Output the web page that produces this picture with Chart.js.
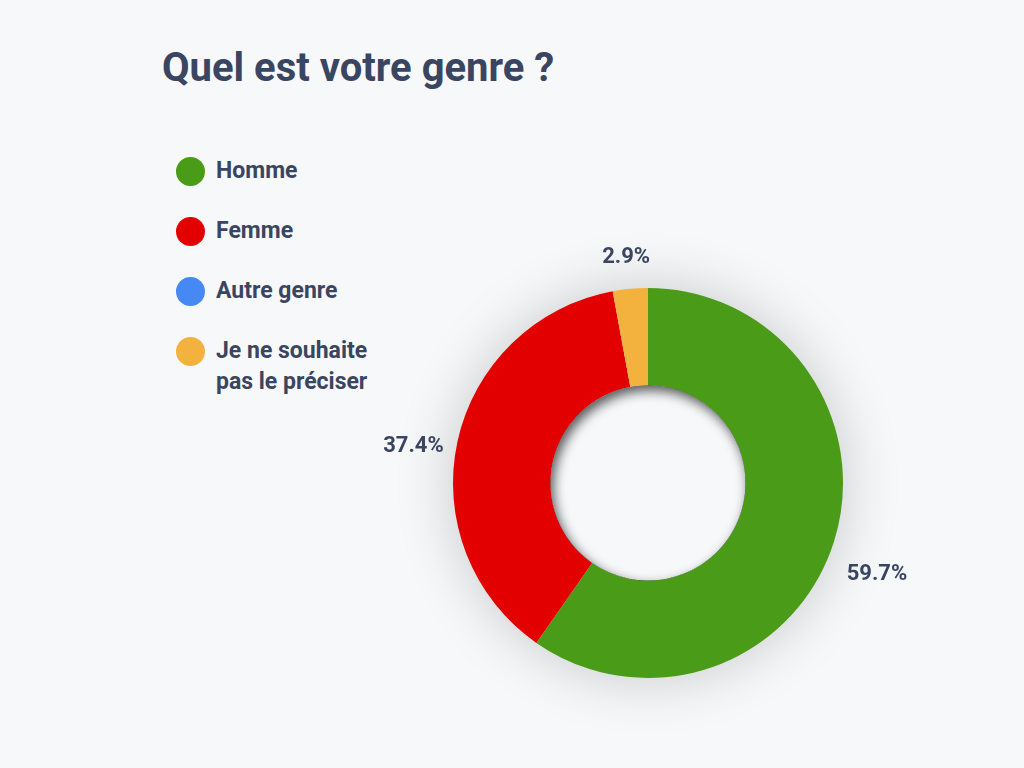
<!DOCTYPE html>
<html lang="fr">
<head>
<meta charset="utf-8">
<title>Quel est votre genre ?</title>
<script src="https://cdn.jsdelivr.net/npm/chart.js@4/dist/chart.umd.min.js"></script>
<style>
  html, body { margin: 0; padding: 0; background: #f7f8fa; }
  body { width: 1024px; height: 768px; position: relative; overflow: hidden; font-family: Roboto, "Noto Sans", sans-serif; color: #3a4561; }
  h1 { position: absolute; left: 162px; top: 43px; margin: 0; font-size: 40px; font-weight: 700; line-height: 50px; white-space: nowrap; }
  #legend { position: absolute; left: 176px; top: 155px; margin: 0; padding: 0; list-style: none; }
  #legend li { display: flex; align-items: flex-start; margin-bottom: 29px; font-size: 23px; font-weight: 700; line-height: 31px; }
  #legend .dot { width: 29px; height: 29px; border-radius: 50%; margin: 2px 11px 0 0; flex: none; }
  #legend .txt { width: 190px; white-space: nowrap; }
  canvas { position: absolute; left: 0; top: 0; }
</style>
</head>
<body>
<h1>Quel est votre genre ?</h1>
<ul id="legend"></ul>
<canvas id="chart" width="1024" height="768"></canvas>
<script>
const labels = ["Homme", "Femme", "Autre genre", "Je ne souhaite pas le préciser"];
const legendLines = [["Homme"], ["Femme"], ["Autre genre"], ["Je ne souhaite", "pas le préciser"]];
const shares = [59.7, 37.4, 0, 2.9];
const colors = ["#4a9b17", "#e30000", "#4689f4", "#f3b13d"];

const bg = "#f7f8fa";
const textColor = "#3a4561";

// html legend, built from the same arrays
const ul = document.getElementById("legend");
labels.forEach((l, i) => {
  const li = document.createElement("li");
  li.innerHTML = `<span class="dot" style="background:${colors[i]}"></span><span class="txt">${legendLines[i].join("<br>")}</span>`;
  ul.appendChild(li);
});

// soft drop shadow under the ring + inner shadow in the hole
const shadows = {
  id: "shadows",
  beforeDatasetsDraw(chart) {
    const arc = chart.getDatasetMeta(0).data[0];
    const { x, y, outerRadius } = arc.getProps(["x", "y", "outerRadius"], true);
    const ctx = chart.ctx;
    ctx.save();
    ctx.beginPath();
    ctx.arc(x, y, outerRadius - 1, 0, Math.PI * 2);
    ctx.fillStyle = bg;
    ctx.shadowColor = "rgba(0,0,0,0.2)";
    ctx.shadowBlur = 60;
    ctx.fill();
    ctx.restore();
  },
  afterDatasetsDraw(chart) {
    const arc = chart.getDatasetMeta(0).data[0];
    const { x, y, innerRadius } = arc.getProps(["x", "y", "innerRadius"], true);
    const ctx = chart.ctx;
    ctx.save();
    ctx.beginPath();
    ctx.arc(x, y, innerRadius, 0, Math.PI * 2);
    ctx.clip();
    ctx.fillStyle = bg;
    ctx.fillRect(x - innerRadius, y - innerRadius, innerRadius * 2, innerRadius * 2);
    ctx.beginPath();
    ctx.arc(x, y, innerRadius + 40, 0, Math.PI * 2);
    ctx.arc(x, y, innerRadius, 0, Math.PI * 2, true);
    ctx.fillStyle = "#000";
    ctx.shadowColor = "rgba(0,0,0,0.65)";
    ctx.shadowBlur = 12;
    ctx.shadowOffsetX = 3;
    ctx.shadowOffsetY = 5;
    ctx.fill();
    ctx.restore();
  }
};

// percentage labels outside the ring
const outLabels = {
  id: "outLabels",
  afterDraw(chart) {
    const ctx = chart.ctx;
    ctx.save();
    ctx.font = "bold 22px Roboto";
    ctx.fillStyle = textColor;
    ctx.textAlign = "center";
    ctx.textBaseline = "middle";
    chart.getDatasetMeta(0).data.forEach((a, i) => {
      if (!shares[i]) return;
      const p = a.getProps(["x", "y", "startAngle", "endAngle", "outerRadius"], true);
      const mid = (p.startAngle + p.endAngle) / 2;
      const r = p.outerRadius + 45;
      const dy = 14 + Math.max(0, Math.sin(mid)) * 18;
      ctx.fillText(shares[i].toFixed(1) + "%", p.x + Math.cos(mid) * r, p.y + Math.sin(mid) * r + dy);
    });
    ctx.restore();
  }
};

new Chart(document.getElementById("chart").getContext("2d"), {
  type: "doughnut",
  data: {
    labels,
    datasets: [{ data: shares, backgroundColor: colors, borderWidth: 0, hoverOffset: 0 }]
  },
  options: {
    responsive: false,
    animation: false,
    cutout: "50%",
    layout: { padding: { left: 453, right: 181, top: 288, bottom: 90 } },
    plugins: { legend: { display: false }, tooltip: { enabled: false } }
  },
  plugins: [shadows, outLabels]
});
</script>
</body>
</html>
